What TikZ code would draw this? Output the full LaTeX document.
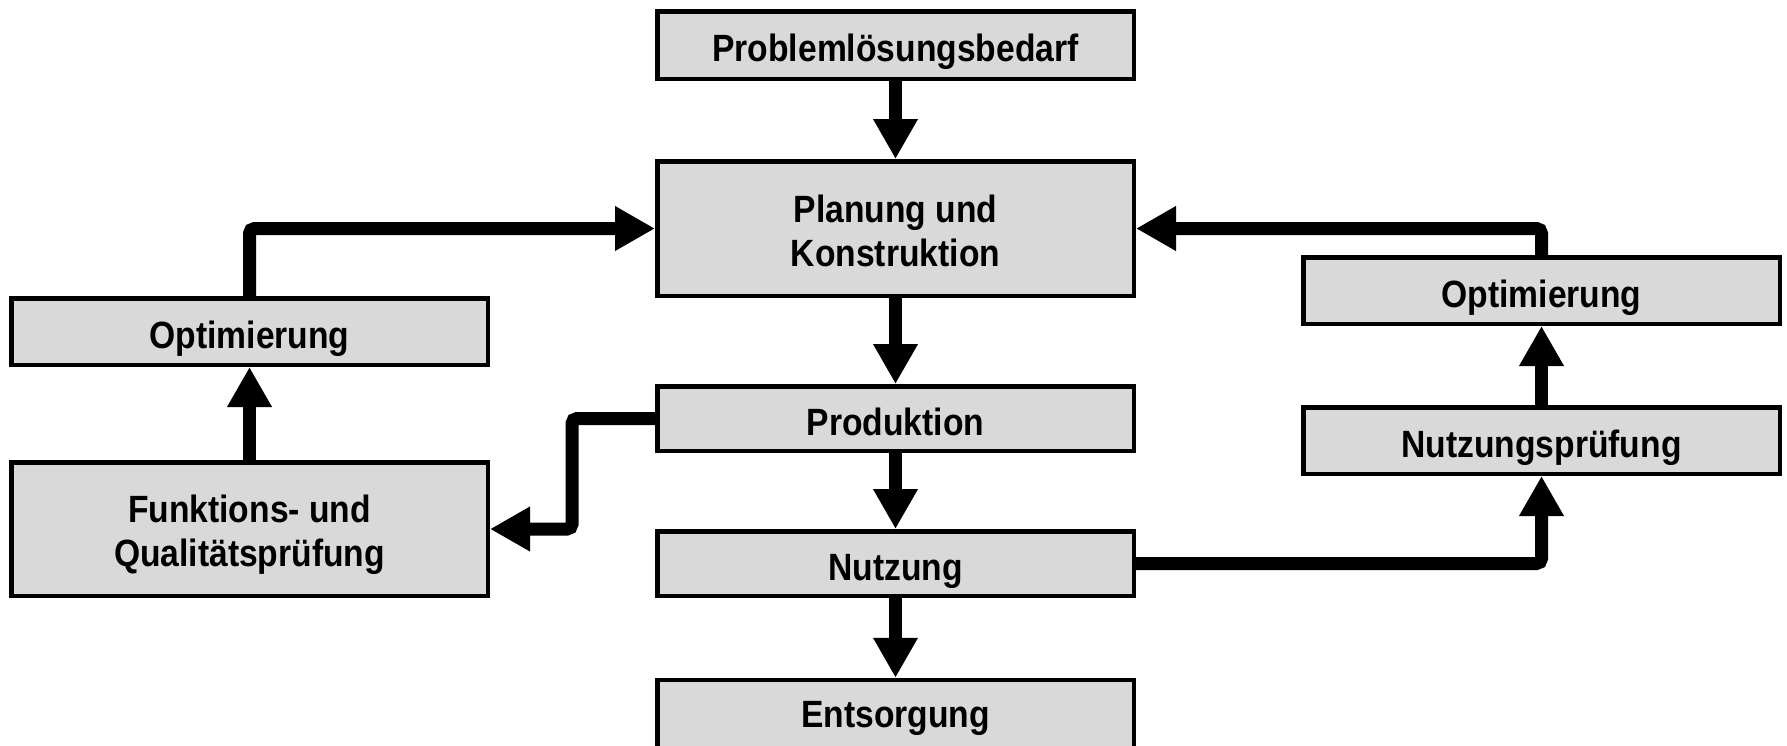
\documentclass[tikz,border=0pt]{standalone}
\usepackage{fontspec}
\usetikzlibrary{arrows.meta}
\newfontfamily\dfont[FakeStretch=0.885]{Liberation Sans}
\definecolor{boxgray}{RGB}{217,217,217}
\begin{document}
\begin{tikzpicture}[x=1pt,y=-1pt,
  box/.style={draw=black, line width=4.5pt, fill=boxgray, inner sep=0pt, minimum width=476.5pt},
  lbl/.style={font={\dfont\bfseries\fontsize{38pt}{44pt}\selectfont}, anchor=base, inner sep=0pt},
  arr/.style={line width=13pt, -{Triangle[length=40pt,width=42pt]}, rounded corners=5pt}]
\useasboundingbox (0,0) rectangle (1787,745);
\clip (0,0) rectangle (1787,745);
% boxes
\node[box, minimum height=67.5pt]  (prob) at (895.5,45) {};
\node[box, minimum height=134.5pt] (plan) at (895.5,228.5) {};
\node[box, minimum height=64.5pt]  (prod) at (895.5,418.5) {};
\node[box, minimum height=64.5pt]  (nutz) at (895.5,563.5) {};
\node[box, minimum height=120pt]   (ents) at (895.5,740) {};
\node[box, minimum height=66.5pt]  (optl) at (249.5,331.5) {};
\node[box, minimum height=133.5pt] (funk) at (249.5,529) {};
\node[box, minimum height=66.5pt]  (optr) at (1541.5,290.5) {};
\node[box, minimum height=66.5pt]  (nprf) at (1541.5,440.5) {};
% labels
\node[lbl] (tprob) at (895.5,61.5) {Problemlösungsbedarf};
\node[lbl] (tplan) at (895.5,222) {\begin{tabular}[t]{@{}c@{}}Planung und\\Konstruktion\end{tabular}};
\node[lbl] (tprod) at (895.5,435) {Produktion};
\node[lbl] (tnutz) at (895.5,580) {Nutzung};
\node[lbl] (tents) at (895.5,727) {Entsorgung};
\node[lbl] (toptl) at (249.5,348) {Optimierung};
\node[lbl] (tfunk) at (249.5,522) {\begin{tabular}[t]{@{}c@{}}Funktions- und\\Qualitätsprüfung\end{tabular}};
\node[lbl] (toptr) at (1541.5,307) {Optimierung};
\node[lbl] (tnprf) at (1541.5,457) {Nutzungsprüfung};
% connectors
\draw[arr] (prob.south) -- (plan.north);
\draw[arr] (plan.south) -- (prod.north);
\draw[arr] (prod.south) -- (nutz.north);
\draw[arr] (nutz.south) -- (ents.north);
\draw[arr] (funk.north) -- (optl.south);
\draw[arr] (optl.north) |- (plan.west);
\draw[arr] (prod.west) -- ++(-83,0) |- (funk.east);
\draw[arr] (nutz.east) -| (nprf.south);
\draw[arr] (nprf.north) -- (optr.south);
\draw[arr] (optr.north) |- (plan.east);
\end{tikzpicture}
\end{document}
